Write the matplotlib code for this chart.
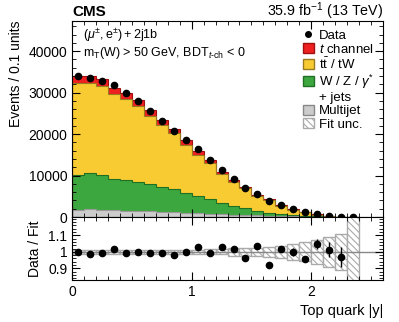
import numpy as np
import matplotlib
matplotlib.use("Agg")
import matplotlib.pyplot as plt
from matplotlib.patches import Patch
from matplotlib.lines import Line2D
from matplotlib.ticker import MultipleLocator, FixedLocator, FormatStrFormatter

plt.rcParams["font.family"] = ["Liberation Sans", "DejaVu Sans"]
plt.rcParams["mathtext.fontset"] = "custom"
plt.rcParams["mathtext.rm"] = "Liberation Sans"
plt.rcParams["mathtext.it"] = "Liberation Sans:italic"
plt.rcParams["mathtext.bf"] = "Liberation Sans:bold"
plt.rcParams["hatch.linewidth"] = 0.8

# binning in top quark |y|
edges = np.round(np.arange(0, 2.41, 0.1), 2)
centers = edges[:-1] + 0.05

# events / 0.1 units
data = [34130, 33650, 32850, 31730, 29810, 28060, 25660, 23260, 20860, 18470,
        16300, 13670, 11300, 9110, 7050, 5630, 3910, 2880, 1920, 1200,
        680, 320, 80, 20]
multijet = [1800, 1850, 1750, 1650, 1550, 1450, 1350, 1250, 1100, 1000,
            900, 800, 700, 600, 500, 420, 350, 280, 220, 120,
            80, 40, 20, 10]
wjets = [8350, 8780, 8320, 7630, 7400, 7100, 6560, 6110, 5610, 4910,
         4210, 3510, 2570, 2110, 1650, 1090, 530, 360, 180, 120,
         70, 40, 20, 5]
ttbar = [22280, 21800, 21460, 20300, 19490, 18170, 16550, 14790, 13480, 11560,
         9870, 8800, 7120, 5740, 4780, 3620, 3140, 2030, 1400, 940,
         450, 210, 30, 10]
tchan = [1700, 1700, 1650, 1650, 1550, 1450, 1350, 1250, 1100, 1000,
         850, 700, 580, 480, 380, 300, 220, 160, 120, 80,
         50, 30, 15, 5]

# data / fit ratio panel
ratio = [1.000, 0.986, 0.990, 1.016, 0.994, 0.996, 0.994, 0.994, 0.980, 1.000,
         1.030, 0.990, 1.030, 1.020, 0.964, 1.036, 0.922, 1.016, 0.998, 0.954,
         1.048, 1.014, 0.970, np.nan]
ratio_err = [0.005, 0.005, 0.005, 0.006, 0.006, 0.006, 0.006, 0.007, 0.007, 0.007,
             0.008, 0.009, 0.010, 0.011, 0.012, 0.014, 0.016, 0.019, 0.023, 0.015,
             0.030, 0.045, 0.060, np.nan]
fit_unc = [0.012, 0.012, 0.012, 0.012, 0.012, 0.012, 0.012, 0.012, 0.012, 0.013,
           0.014, 0.015, 0.016, 0.024, 0.025, 0.026, 0.032, 0.038, 0.047, 0.057,
           0.072, 0.090, 0.110, 0.500]

fig = plt.figure(figsize=(3.99, 3.22), dpi=100)
ax = fig.add_axes([0.1805, 0.326, 0.7795, 0.609])
rax = fig.add_axes([0.1805, 0.1304, 0.7795, 0.1956], sharex=ax)

# stacked histogram, drawn from the top of the stack down
stack = [
    (multijet, "#cccccc", "#999999"),
    (wjets, "#3da73f", "#1f6f25"),
    (ttbar, "#f8cb32", "#9a7a20"),
    (tchan, "#ee2020", "#a01010"),
]
cum = np.zeros(len(centers))
tops = []
for vals, fc, ec in stack:
    cum = cum + np.array(vals, dtype=float)
    tops.append((cum.copy(), fc, ec))
for top, fc, ec in reversed(tops):
    ax.stairs(top, edges, fill=True, color=fc)
for top, fc, ec in reversed(tops):
    ax.stairs(top, edges, color=ec, lw=0.8)

ax.errorbar(centers, data, fmt="o", color="black", ms=4.5, lw=1, zorder=5)

ax.set_xlim(0, 2.6)
ax.set_ylim(0, 47300)
ax.yaxis.set_major_locator(MultipleLocator(10000))
ax.yaxis.set_minor_locator(MultipleLocator(2000))
ax.xaxis.set_major_locator(MultipleLocator(1))
ax.xaxis.set_minor_locator(MultipleLocator(0.1))
ax.tick_params(labelbottom=False)
ax.set_ylabel("Events / 0.1 units", loc="top", fontsize=10)

# ratio panel
rax.bar(centers, 2 * np.array(fit_unc), bottom=1 - np.array(fit_unc), width=0.1,
        facecolor="white", edgecolor="#aaaaaa", hatch="\\\\\\\\\\", lw=1, zorder=1)
rax.axhline(1, color="#888888", lw=1, zorder=2)
rax.errorbar(centers, ratio, yerr=ratio_err, fmt="o", color="black", ms=4.5,
             lw=1, zorder=5)
rax.set_ylim(0.83, 1.21)
rax.yaxis.set_major_locator(FixedLocator([0.9, 1.0, 1.1]))
rax.yaxis.set_minor_locator(MultipleLocator(0.02))
rax.yaxis.set_major_formatter(FormatStrFormatter("%g"))
rax.set_ylabel("Data / Fit", fontsize=10)
rax.set_xlabel("Top quark |y|", loc="right", fontsize=10.5)

for a in (ax, rax):
    a.tick_params(which="both", direction="in", top=True, right=True, labelsize=10)
    a.tick_params(which="major", length=6)
    a.tick_params(which="minor", length=3)
    a.set_axisbelow(False)
    for sp in a.spines.values():
        sp.set_zorder(10)

fig.align_ylabels([ax, rax])

# labels
fig.text(0.1805, 0.949, "CMS", fontsize=11, fontweight="bold", ha="left", va="baseline")
fig.text(0.96, 0.949, r"35.9 fb$^{-1}$ (13 TeV)", fontsize=10.3, ha="right", va="baseline")
ax.text(0.035, 0.972, r"$(\mu^{\pm}, \mathrm{e}^{\pm}) + 2\mathrm{j1b}$", transform=ax.transAxes,
        fontsize=9, va="top")
ax.text(0.035, 0.875, r"$\mathrm{m_T(W)}$ > 50 GeV, BDT$_{t\mathrm{\text{-}ch}}$ < 0",
        transform=ax.transAxes, fontsize=9, va="top")

handles = [
    Line2D([], [], marker="o", color="black", ms=4, ls="none"),
    Patch(facecolor="#ee2020", edgecolor="#a01010"),
    Patch(facecolor="#f8cb32", edgecolor="#9a7a20"),
    Patch(facecolor="#3da73f", edgecolor="#1f6f25"),
    Patch(facecolor="none", edgecolor="none"),
    Patch(facecolor="#cccccc", edgecolor="#888888"),
    Patch(facecolor="white", edgecolor="#aaaaaa", hatch="\\\\\\\\\\"),
]
labels = ["Data", r"$t$ channel", r"t$\bar{\mathrm{t}}$ / tW", r"W / Z / $\gamma^{*}$",
          "+ jets", "Multijet", "Fit unc."]
leg = ax.legend(handles, labels, loc="upper right", bbox_to_anchor=(1.0, 1.0),
                frameon=False, fontsize=9.5, handlelength=0.85, handleheight=0.8,
                handletextpad=0.4, labelspacing=0.05, borderaxespad=0.25)

fig.savefig("out.png", dpi=100)
